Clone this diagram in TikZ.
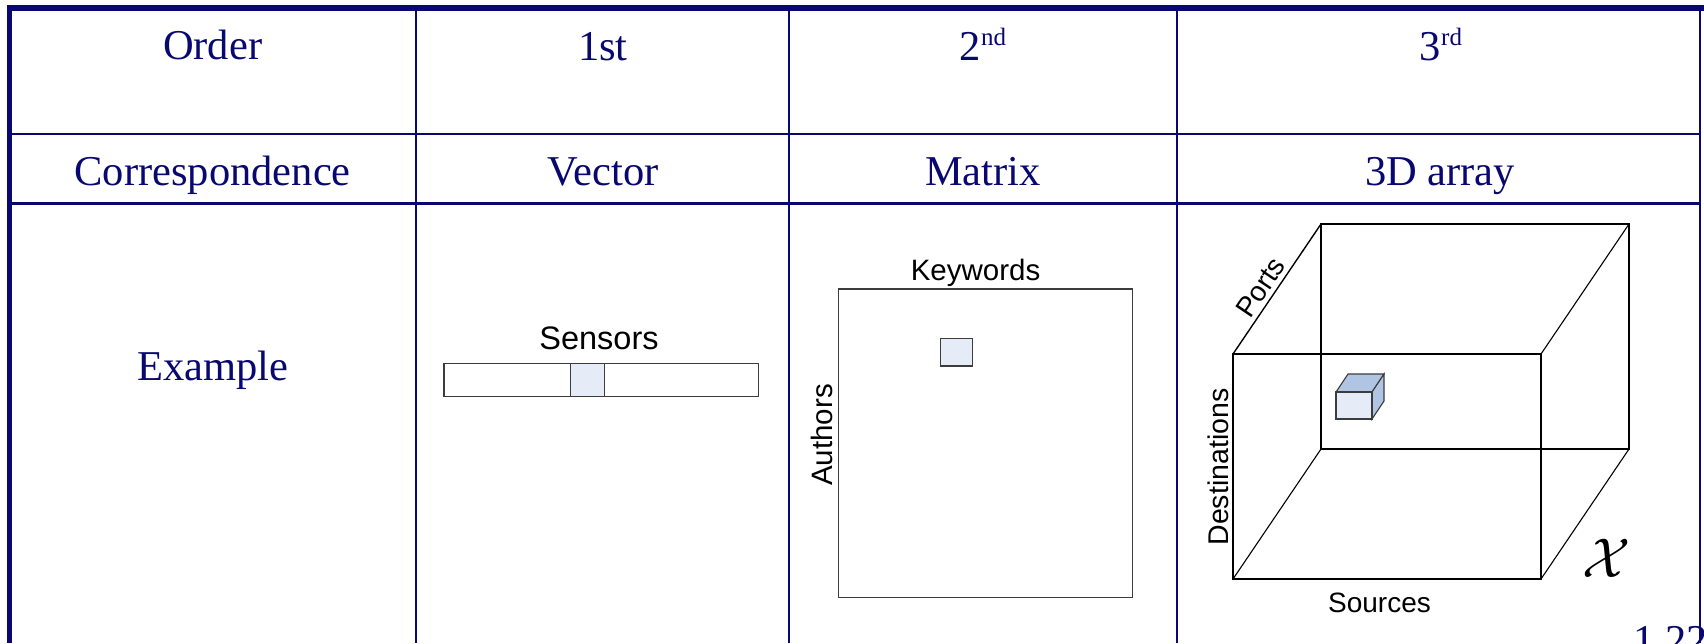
\documentclass[tikz,border=0pt]{standalone}
\usepackage{fontspec}
\setmainfont{Liberation Serif}
\newfontfamily\arialf{Liberation Sans}
\definecolor{navy}{RGB}{8,8,112}
\definecolor{cellblue}{RGB}{230,236,247}
\definecolor{faceblue}{RGB}{176,196,227}
\definecolor{figgray}{RGB}{60,60,60}
\tikzset{
  tline/.style={draw=navy,line width=2.5pt},
  tborder/.style={draw=navy,line width=5.5pt},
  celltext/.style={anchor=base,text=navy,font=\fontsize{42.5}{50}\selectfont},
  lbl/.style={anchor=base,text=black,inner sep=0pt},
  figbox/.style={draw=figgray,line width=1.3pt},
  cubeline/.style={draw=black,line width=1.4pt},
  smallsq/.style={draw=figgray,line width=1.3pt,fill=cellblue}
}
\begin{document}
\begin{tikzpicture}[x=1pt,y=-1pt]
\useasboundingbox (0,0) rectangle (1704,643);
\fill[white] (0,0) rectangle (1704,643);
% ---- table grid ----
\draw[tline] (9.5,134) -- (1700,134);
\draw[tline] (9.5,203.5) -- (1700,203.5);
\draw[tline] (416,8) -- (416,643);
\draw[tline] (789,8) -- (789,643);
\draw[tline] (1177,8) -- (1177,643);
\draw[tborder] (6.75,8) -- (1704,8);
\draw[tborder] (9.5,5.25) -- (9.5,643);
% ---- cell texts ----
\node[celltext] (order) at (212.7,59.5) {Order};
\node[celltext] (first) at (603,60) {1st};
\node[celltext] (second) at (983,60) {2\raisebox{15pt}{\fontsize{25}{25}\selectfont nd}};
\node[celltext] (third) at (1441,60) {3\raisebox{15pt}{\fontsize{25}{25}\selectfont rd}};
\node[celltext] (corr) at (212.7,185) {Correspondence};
\node[celltext] (vector) at (603,185) {Vector};
\node[celltext] (matrix) at (983,185) {Matrix};
\node[celltext] (array) at (1440,185) {3D array};
\node[celltext] (example) at (212.7,380) {Example};
\node[celltext,anchor=base west] (slideno) at (1630,654) {1.22};
\draw[tline] (1700,8) -- (1700,643);
% ---- vector ----
\draw[figbox] (444,363.3) rectangle (758.3,396.7);
\draw[smallsq] (570.7,363.3) rectangle (604.7,396.7);
\node[lbl,font=\arialf\fontsize{32.5}{36}\selectfont] (sensors) at (599,349) {Sensors};
% ---- matrix ----
\draw[figbox] (838.7,289) rectangle (1132.3,597.7);
\draw[smallsq] (940.3,338.7) rectangle (972.7,366);
\node[lbl,font=\arialf\fontsize{29.5}{33}\selectfont] (keywords) at (975.5,280.7) {Keywords};
\node[lbl,rotate=90,font=\arialf\fontsize{29.5}{33}\selectfont] (authors) at (832,435) {Authors};
% ---- 3D array ----
\coordinate (f1) at (1233,354);
\coordinate (f2) at (1541,354);
\coordinate (f3) at (1541,579);
\coordinate (f4) at (1233,579);
\coordinate (b1) at (1321,224);
\coordinate (b2) at (1629,224);
\coordinate (b3) at (1629,449);
\coordinate (b4) at (1321,449);
\draw[cubeline,line width=1.1pt] (b1) -- (b2) -- (b3) -- (b4) -- cycle;
\draw[cubeline,line width=1.1pt] (f2) -- (b2);
\draw[cubeline,line width=1.1pt] (f3) -- (b3);
\draw[cubeline,line width=1.1pt] (f4) -- (b4);
\draw[cubeline] (f1) -- node[pos=0.45,above,sloped,inner sep=4pt,font=\arialf\fontsize{28}{32}\selectfont] (ports) {Ports} (b1);
\draw[cubeline] (f1) -- (f2) -- (f3) -- (f4) -- cycle;
% small cube
\coordinate (s1) at (1336,392);
\coordinate (s2) at (1372,392);
\coordinate (s3) at (1372,419);
\coordinate (s4) at (1336,419);
\coordinate (s5) at (1348,374);
\coordinate (s6) at (1384,374);
\coordinate (s7) at (1384,401);
\draw[draw=figgray,line width=1.1pt,fill=faceblue] (s1) -- (s5) -- (s6) -- (s2) -- cycle;
\draw[draw=figgray,line width=1.1pt,fill=faceblue] (s2) -- (s6) -- (s7) -- (s3) -- cycle;
\draw[draw=figgray,line width=1.1pt,fill=cellblue] (s1) rectangle (s3);
\node[lbl,rotate=90,font=\arialf\fontsize{28.5}{32}\selectfont] (dest) at (1228,467) {Destinations};
\node[lbl,font=\arialf\fontsize{28}{32}\selectfont] (sources) at (1379.5,612.7) {Sources};
\node[lbl,scale=5.6] (tensor) at (1607,577) {$\mathcal{X}$};
\end{tikzpicture}
\end{document}
